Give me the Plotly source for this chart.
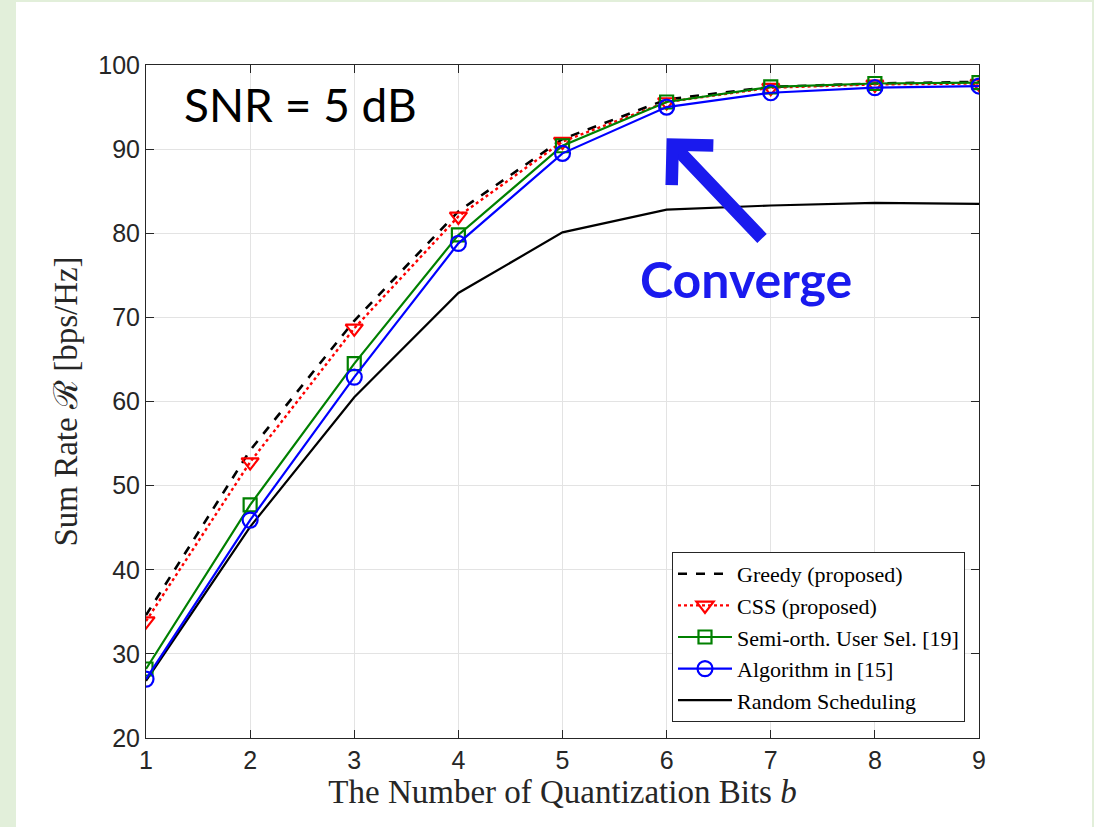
import plotly.graph_objects as go

bits = [1, 2, 3, 4, 5, 6, 7, 8, 9]
greedy = [34.6, 54.2, 69.6, 82.6, 91.2, 95.9, 97.4, 97.8, 98.0]
css = [33.9, 52.8, 68.7, 82.0, 90.9, 95.6, 97.3, 97.7, 97.8]
semi = [28.2, 47.7, 64.5, 79.8, 90.4, 95.6, 97.4, 97.8, 97.9]
algo = [27.0, 45.9, 62.9, 78.8, 89.5, 95.0, 96.7, 97.3, 97.5]
rand = [26.8, 45.1, 60.5, 72.9, 80.1, 82.8, 83.3, 83.6, 83.5]

x_ticks = [1, 2, 3, 4, 5, 6, 7, 8, 9]
y_ticks = [20, 30, 40, 50, 60, 70, 80, 90, 100]

serif = "Liberation Serif, DejaVu Serif, serif"
sans = "Liberation Sans, Arial, sans-serif"

fig = go.Figure()
fig.add_trace(go.Scatter(x=bits, y=rand, mode="lines", name="Random Scheduling",
                         line=dict(color="black", width=2.2), legendrank=5))
fig.add_trace(go.Scatter(x=bits, y=greedy, mode="lines", name="Greedy (proposed)",
                         line=dict(color="black", width=2.6, dash="dash"), legendrank=1))
fig.add_trace(go.Scatter(x=bits, y=css, mode="lines+markers", name="CSS (proposed)",
                         line=dict(color="#ff0000", width=2.4, dash="dot"),
                         marker=dict(symbol="triangle-down-open", size=15, color="#ff0000",
                                     line=dict(width=2.2)), legendrank=2))
fig.add_trace(go.Scatter(x=bits, y=semi, mode="lines+markers", name="Semi-orth. User Sel. [19]",
                         line=dict(color="#008000", width=2.2),
                         marker=dict(symbol="square-open", size=13, color="#008000",
                                     line=dict(width=2.2)), legendrank=3))
fig.add_trace(go.Scatter(x=bits, y=algo, mode="lines+markers", name="Algorithm in [15]",
                         line=dict(color="#0000ff", width=2.2),
                         marker=dict(symbol="circle-open", size=15, color="#0000ff",
                                     line=dict(width=2.2)), legendrank=4))

axis_common = dict(showgrid=True, gridcolor="#e3e3e3", gridwidth=1,
                   showline=True, linecolor="#262626", linewidth=1, mirror="ticks",
                   ticks="inside", ticklen=8, tickcolor="#262626", zeroline=False,
                   tickfont=dict(family=sans, size=25, color="#262626"))

fig.update_xaxes(range=[1, 9], tickvals=x_ticks, ticktext=[str(v) for v in x_ticks],
                 title=dict(text="The Number of Quantization Bits <i>b</i>",
                            font=dict(family=serif, size=33, color="#262626"), standoff=4),
                 **axis_common)
fig.update_yaxes(range=[20, 100], tickvals=y_ticks, ticktext=[str(v) for v in y_ticks],
                 title=dict(text="Sum Rate ℛ [bps/Hz]",
                            font=dict(family=serif, size=33, color="#262626"), standoff=10),
                 **axis_common)

fig.add_annotation(x=6.0, y=91.3, ax=6.93, ay=79.2, xref="x", yref="y", axref="x", ayref="y",
                   text="", showarrow=True, arrowhead=4, arrowsize=0.85, arrowwidth=13,
                   arrowcolor="#1a1aee")
fig.add_annotation(x=6.76, y=74.6, xref="x", yref="y", text="<b>Converge</b>", showarrow=False,
                   font=dict(family="Lato, sans-serif", size=50, color="#1a1aee"))
fig.add_annotation(x=1.35, y=95.3, xref="x", yref="y", xanchor="left", text="SNR = 5 dB",
                   showarrow=False, font=dict(family="Lato, sans-serif", size=46, color="black"))

# page background with green strips
fig.add_shape(type="rect", xref="paper", yref="paper", layer="below",
              x0=(16 - 146) / 833, x1=(1092 - 146) / 833,
              y0=-90 / 673, y1=(738 - 2) / 673,
              fillcolor="white", line=dict(width=0))

fig.update_layout(
    width=1094, height=827,
    margin=dict(l=146, r=115, t=65, b=89),
    paper_bgcolor="#e2efda", plot_bgcolor="white",
    showlegend=True,
    legend=dict(x=(965 - 146) / 833, y=(738 - 722) / 673, xanchor="right", yanchor="bottom",
                bgcolor="white", bordercolor="#262626", borderwidth=1,
                font=dict(family=serif, size=22, color="black"),
                tracegroupgap=0, itemwidth=54, traceorder="normal"),
)

fig.write_html("out.html")
